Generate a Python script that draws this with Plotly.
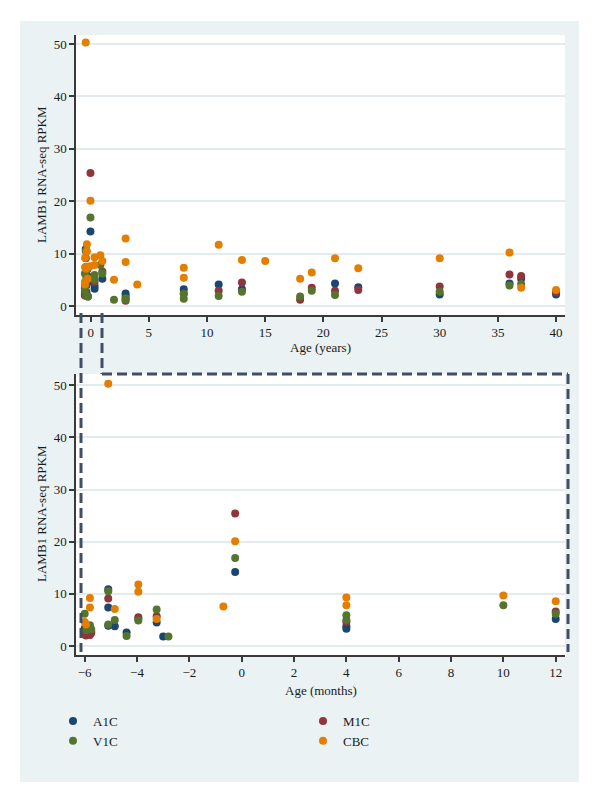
import plotly.graph_objects as go

# ---------------- data ----------------
series_names = ["A1C", "M1C", "V1C", "CBC"]
series_colors = ["#1a476f", "#90353b", "#55752f", "#e37e00"]

# Infant samples: age in months
a1c_m_x = [-6.0, -5.95, -5.8, -5.75, -5.1, -5.1, -5.1, -4.85, -4.4, -3.95, -3.25, -3.0, -0.25, 4, 4, 12]
a1c_m_y = [3.4, 2.6, 3.2, 2.8, 10.9, 7.4, 3.9, 3.8, 2.6, 5.2, 4.5, 1.8, 14.2, 3.8, 3.3, 5.2]
m1c_m_x = [-6.0, -5.95, -5.8, -5.75, -5.1, -3.95, -3.25, -0.25, 4, 12]
m1c_m_y = [2.2, 2.0, 2.1, 2.5, 9.1, 5.5, 5.7, 25.4, 4.6, 6.6]
v1c_m_x = [-6.0, -5.95, -5.8, -5.75, -5.1, -5.1, -4.85, -4.4, -3.95, -3.25, -2.8, -0.25, 4, 4, 10, 12]
v1c_m_y = [6.2, 3.0, 4.0, 3.2, 10.5, 4.1, 5.0, 1.9, 4.9, 7.0, 1.8, 16.9, 5.9, 5.0, 7.8, 6.2]
cbc_m_x = [-6.0, -5.95, -5.8, -5.8, -5.1, -4.85, -3.95, -3.95, -3.25, -0.7, -0.25, 4, 4, 10, 12]
cbc_m_y = [4.6, 4.1, 9.2, 7.4, 50.3, 7.1, 11.8, 10.4, 5.2, 7.6, 20.1, 9.3, 7.8, 9.7, 8.6]

# Older samples: age in years
a1c_y_x = [3, 3, 8, 11, 13, 21, 23, 30, 36, 37, 40]
a1c_y_y = [2.4, 1.9, 3.2, 4.1, 3.2, 4.3, 3.6, 2.2, 4.3, 5.2, 2.2]
m1c_y_x = [3, 8, 11, 13, 18, 19, 21, 23, 30, 36, 37, 40]
m1c_y_y = [1.0, 2.4, 2.9, 4.5, 1.2, 3.5, 2.9, 3.05, 3.7, 6.0, 5.7, 2.6]
v1c_y_x = [2, 3, 3, 8, 8, 11, 13, 18, 19, 21, 30, 36, 37]
v1c_y_y = [1.2, 1.5, 1.2, 1.4, 2.3, 1.9, 2.7, 1.8, 2.9, 2.1, 2.7, 3.9, 4.2]
cbc_y_x = [2, 3, 3, 4, 8, 8, 11, 13, 15, 18, 19, 21, 23, 30, 36, 37, 40]
cbc_y_y = [5.0, 12.9, 8.4, 4.1, 7.3, 5.4, 11.7, 8.8, 8.6, 5.2, 6.4, 9.1, 7.2, 9.1, 10.2, 3.5, 3.05]

y_ticks = [0, 10, 20, 30, 40, 50]
x_ticks_years = [0, 5, 10, 15, 20, 25, 30, 35, 40]
x_ticks_months = [-6, -4, -2, 0, 2, 4, 6, 8, 10, 12]

months_data = [(a1c_m_x, a1c_m_y), (m1c_m_x, m1c_m_y), (v1c_m_x, v1c_m_y), (cbc_m_x, cbc_m_y)]
years_data = [(a1c_y_x, a1c_y_y), (m1c_y_x, m1c_y_y), (v1c_y_x, v1c_y_y), (cbc_y_x, cbc_y_y)]

# ---------------- layout helpers ----------------
W, H = 600, 787
def px(p):
    return p / W
def py(p):
    return 1 - p / H

FONT = "Liberation Serif"
BG = "#eaf2f3"
AXC = "#3a3a3a"
GRID = "#e3ebee"
DASHC = "#414f66"

fig = go.Figure()

for i, name in enumerate(series_names):
    mx, my = months_data[i]
    yx, yy = years_data[i]
    # top panel: everything in years
    fig.add_trace(go.Scatter(
        x=[v / 12 for v in mx] + yx, y=my + yy, mode="markers", name=name,
        marker=dict(color=series_colors[i], size=8, line=dict(width=0)),
        xaxis="x", yaxis="y", showlegend=False))
for i, name in enumerate(series_names):
    mx, my = months_data[i]
    fig.add_trace(go.Scatter(
        x=mx, y=my, mode="markers", name=name,
        marker=dict(color=series_colors[i], size=8, line=dict(width=0)),
        xaxis="x2", yaxis="y2", showlegend=True))

tickfont = dict(family=FONT, size=13, color="#1a1a1a")
common_ax = dict(showline=True, linecolor=AXC, linewidth=1.5, ticks="outside",
                 ticklen=5, tickwidth=1.5, tickcolor=AXC, tickfont=tickfont,
                 zeroline=False, mirror=False)

fig.update_layout(
    width=W, height=H,
    margin=dict(l=0, r=0, t=0, b=0),
    paper_bgcolor=BG, plot_bgcolor="white",
    font=dict(family=FONT, size=13, color="#1a1a1a"),
    xaxis=dict(domain=[px(76), px(565)], anchor="y", range=[-1.264, 40.77],
               tickvals=x_ticks_years, showgrid=False, **common_ax),
    yaxis=dict(domain=[py(315), py(35)], anchor="x", range=[-1.72, 51.72],
               tickvals=y_ticks, showgrid=True, gridcolor=GRID, gridwidth=1.5, **common_ax),
    xaxis2=dict(domain=[px(76), px(565)], anchor="y2", range=[-6.332, 12.355],
                tickvals=x_ticks_months, showgrid=False, **common_ax),
    yaxis2=dict(domain=[py(655), py(374)], anchor="x2", range=[-1.726, 52.17],
                tickvals=y_ticks, showgrid=True, gridcolor=GRID, gridwidth=1.5, **common_ax),
    legend=dict(orientation="h", x=px(53), y=py(706), xanchor="left", yanchor="top",
                entrywidth=205, entrywidthmode="pixels", bgcolor="rgba(0,0,0,0)",
                font=dict(family=FONT, size=13, color="#1a1a1a"), tracegroupgap=0),
    showlegend=True,
)

annotations = [
    dict(text="Age (years)", x=px(320.5), y=py(347), xref="paper", yref="paper",
         showarrow=False, xanchor="center", yanchor="middle",
         font=dict(family=FONT, size=13, color="#1a1a1a")),
    dict(text="Age (months)", x=px(320.5), y=py(690), xref="paper", yref="paper",
         showarrow=False, xanchor="center", yanchor="middle",
         font=dict(family=FONT, size=13, color="#1a1a1a")),
    dict(text="LAMB1 RNA-seq RPKM", x=px(41), y=py(175), xref="paper", yref="paper",
         showarrow=False, xanchor="center", yanchor="middle", textangle=-90,
         font=dict(family=FONT, size=13, color="#1a1a1a")),
    dict(text="LAMB1 RNA-seq RPKM", x=px(41), y=py(514), xref="paper", yref="paper",
         showarrow=False, xanchor="center", yanchor="middle", textangle=-90,
         font=dict(family=FONT, size=13, color="#1a1a1a")),
]
fig.update_layout(annotations=annotations)

shapes = []
# white margins around the graph region
for (x0, y0, x1, y1) in [(0, 0, 600, 21), (0, 782, 600, 787), (0, 0, 20, 787), (579, 0, 600, 787)]:
    shapes.append(dict(type="rect", xref="paper", yref="paper", x0=px(x0), x1=px(x1),
                       y0=py(y1), y1=py(y0), fillcolor="white", line=dict(width=0), layer="below"))
# dashed zoom box
dash_line = dict(color=DASHC, width=3, dash="10px,5px")
for (x0, y0, x1, y1) in [(81, 313, 81, 652), (102, 313, 102, 374), (102, 374, 568, 374), (568, 374, 568, 652)]:
    shapes.append(dict(type="line", xref="paper", yref="paper", x0=px(x0), x1=px(x1),
                       y0=py(y0), y1=py(y1), line=dash_line, layer="above"))
fig.update_layout(shapes=shapes)

fig.write_html("out.html")
